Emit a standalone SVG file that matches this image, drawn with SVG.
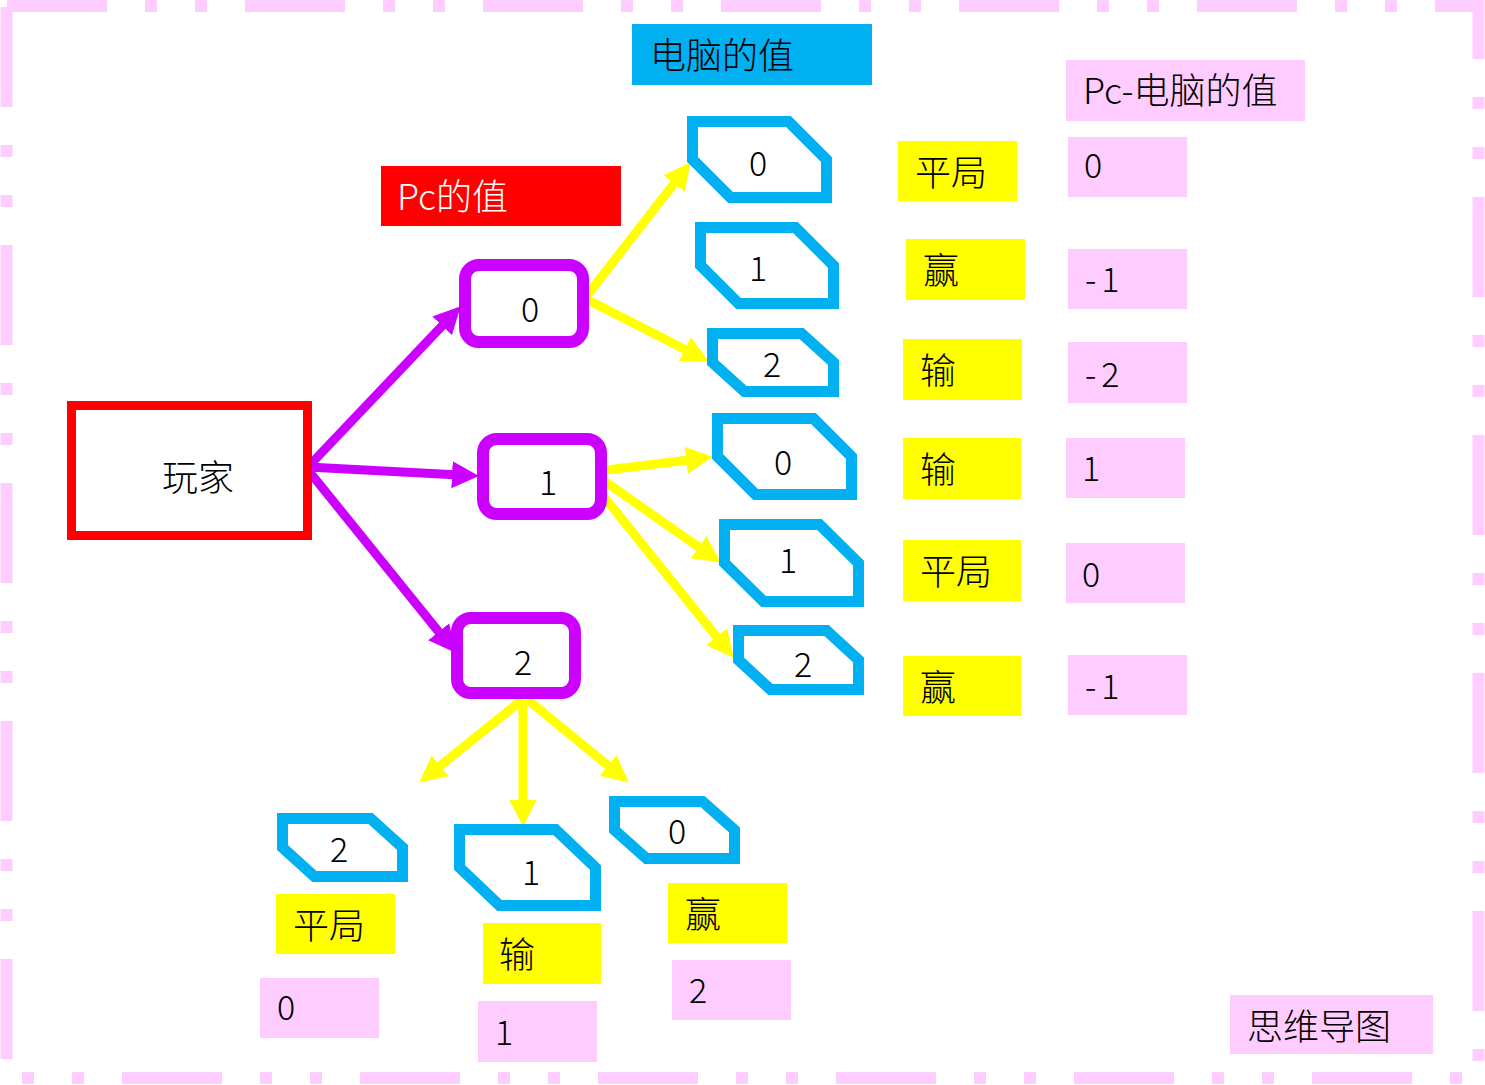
<svg xmlns="http://www.w3.org/2000/svg" width="1485" height="1085" viewBox="0 0 1485 1085">
<style>
text{font-family:"Noto Sans CJK SC","Liberation Sans",sans-serif;fill:#000;font-weight:300;}
.t{font-size:36px;}
.d{font-size:34px;}
.n{letter-spacing:5px;}
.m{text-anchor:middle;}
.pink{fill:#FFCCFF;}
.yel{fill:#FFFF00;}
.hex{fill:#fff;stroke:#00B0F0;stroke-width:11;stroke-linejoin:miter;}
.pur{fill:#fff;stroke:#CC00FF;stroke-width:12;}
.bd{stroke:#FFCCFF;stroke-width:12;fill:none;stroke-dasharray:100 38 12 38 12 38;}
.pa{stroke:#CC00FF;stroke-width:9;fill:none;}
.ya{stroke:#FFFF00;stroke-width:9;fill:none;}
</style>
<defs>
<marker id="hp" markerUnits="userSpaceOnUse" markerWidth="27" markerHeight="27" refX="12" refY="13.5" orient="auto" viewBox="0 0 27 27"><path d="M0,0 L27,13.5 L0,27 Z" fill="#CC00FF"/></marker>
<marker id="hy" markerUnits="userSpaceOnUse" markerWidth="27" markerHeight="27" refX="12" refY="13.5" orient="auto" viewBox="0 0 27 27"><path d="M0,0 L27,13.5 L0,27 Z" fill="#FFFF00"/></marker>
</defs>
<rect width="1485" height="1085" fill="#fff"/>
<g id="border">
<line class="bd" x1="7" y1="6" x2="1484" y2="6"/>
<line class="bd" x1="6.5" y1="7" x2="6.5" y2="1084"/>
<line class="bd" x1="1478.5" y1="0" x2="1478.5" y2="1084" stroke-dashoffset="41"/>
<line class="bd" x1="0" y1="1078" x2="1484" y2="1078" stroke-dashoffset="116"/>
</g>
<g id="connectors">
<line class="pa" x1="308" y1="467" x2="450.4" y2="317.1" marker-end="url(#hp)"/>
<line class="pa" x1="308" y1="467" x2="464" y2="475.3" marker-end="url(#hp)"/>
<line class="pa" x1="308" y1="470" x2="446.2" y2="641.1" marker-end="url(#hp)"/>
<line class="ya" x1="585" y1="298" x2="681.4" y2="174" marker-end="url(#hy)"/>
<line class="ya" x1="588" y1="300" x2="695.5" y2="354.7" marker-end="url(#hy)"/>
<line class="ya" x1="607" y1="470" x2="698.1" y2="458.7" marker-end="url(#hy)"/>
<line class="ya" x1="600" y1="478" x2="708.5" y2="554" marker-end="url(#hy)"/>
<line class="ya" x1="597" y1="488" x2="724.2" y2="646.1" marker-end="url(#hy)"/>
<line class="ya" x1="522" y1="700" x2="430.9" y2="773.2" marker-end="url(#hy)"/>
<line class="ya" x1="523" y1="700" x2="523" y2="812" marker-end="url(#hy)"/>
<line class="ya" x1="528" y1="700" x2="617.2" y2="773.1" marker-end="url(#hy)"/>
</g>
<g id="player">
<rect x="71.5" y="405.5" width="236" height="130" fill="#fff" stroke="#FF0000" stroke-width="9"/>
<text class="t m" x="198" y="491">玩家</text>
</g>
<g id="title-pc">
<rect x="381" y="166" width="240" height="60" fill="#FF0000"/>
<text class="t" x="397" y="210" style="fill:#fff">Pc的值</text>
</g>
<g id="title-computer">
<rect x="632" y="24" width="240" height="61" fill="#00B0F0"/>
<text class="t" x="650" y="69">电脑的值</text>
</g>
<g id="title-diff">
<rect class="pink" x="1066" y="60" width="239" height="61"/>
<text class="t" x="1083" y="104">Pc-电脑的值</text>
</g>
<g id="pc0"><rect class="pur" x="465" y="265" width="118" height="77" rx="14"/><text class="d m" x="530" y="322">0</text></g>
<g id="pc1"><rect class="pur" x="483" y="439" width="118" height="75" rx="14"/><text class="d m" x="548" y="495">1</text></g>
<g id="pc2"><rect class="pur" x="457" y="618" width="118" height="75" rx="14"/><text class="d m" x="523" y="675">2</text></g>
<g id="c00"><path class="hex" d="M692.5,121.5 H788.5 L826.5,159.5 V197.5 H730.5 L692.5,159.5 Z"/><text class="d m" x="758" y="176">0</text></g>
<g id="c01"><path class="hex" d="M700.5,227.5 H795.5 L833.5,265.5 V303.5 H738.5 L700.5,265.5 Z"/><text class="d m" x="758" y="281">1</text></g>
<g id="c02"><path class="hex" d="M712.5,333.5 H801.5 L833.5,362.5 V391.5 H744.5 L712.5,362.5 Z"/><text class="d m" x="772" y="377">2</text></g>
<g id="c10"><path class="hex" d="M717.5,418.5 H813.5 L851.5,456.5 V494.5 H755.5 L717.5,456.5 Z"/><text class="d m" x="783" y="475">0</text></g>
<g id="c11"><path class="hex" d="M724.5,524.5 H819.5 L858.5,563 V601.5 H763.5 L724.5,563 Z"/><text class="d m" x="788" y="573">1</text></g>
<g id="c12"><path class="hex" d="M738.5,630.5 H826.5 L858.5,660 V689.5 H770.5 L738.5,660 Z"/><text class="d m" x="803" y="677">2</text></g>
<g id="c22"><path class="hex" d="M282.5,818.5 H370.5 L402.5,847.5 V876.5 H314.5 L282.5,847.5 Z"/><text class="d m" x="339" y="862">2</text></g>
<g id="c21"><path class="hex" d="M459.5,829.5 H555.5 L595.5,867.5 V905.5 H499.5 L459.5,867.5 Z"/><text class="d m" x="531" y="885">1</text></g>
<g id="c20"><path class="hex" d="M614.5,801.5 H702.5 L734.5,830 V858.5 H646.5 L614.5,830 Z"/><text class="d m" x="677" y="844">0</text></g>
<g id="r1"><rect class="yel" x="898" y="141" width="119" height="60"/><text class="t" x="915" y="186">平局</text></g>
<g id="r2"><rect class="yel" x="906" y="239" width="119" height="61"/><text class="t" x="923" y="284">赢</text></g>
<g id="r3"><rect class="yel" x="903" y="339" width="119" height="61"/><text class="t" x="920" y="384">输</text></g>
<g id="r4"><rect class="yel" x="903" y="438" width="118" height="61"/><text class="t" x="920" y="483">输</text></g>
<g id="r5"><rect class="yel" x="903" y="540" width="118" height="61"/><text class="t" x="920" y="585">平局</text></g>
<g id="r6"><rect class="yel" x="903" y="656" width="118" height="60"/><text class="t" x="920" y="701">赢</text></g>
<g id="v1"><rect class="pink" x="1068" y="137" width="119" height="60"/><text class="d" x="1084" y="178">0</text></g>
<g id="v2"><rect class="pink" x="1068" y="249" width="119" height="60"/><text class="d n" x="1085" y="292">-1</text></g>
<g id="v3"><rect class="pink" x="1068" y="342" width="119" height="61"/><text class="d n" x="1085" y="387">-2</text></g>
<g id="v4"><rect class="pink" x="1066" y="438" width="119" height="60"/><text class="d" x="1082" y="481">1</text></g>
<g id="v5"><rect class="pink" x="1066" y="543" width="119" height="60"/><text class="d" x="1082" y="587">0</text></g>
<g id="v6"><rect class="pink" x="1068" y="655" width="119" height="60"/><text class="d n" x="1085" y="699">-1</text></g>
<g id="r7"><rect class="yel" x="276" y="894" width="119" height="60"/><text class="t" x="293" y="939">平局</text></g>
<g id="r8"><rect class="yel" x="483" y="923" width="118" height="61"/><text class="t" x="499" y="968">输</text></g>
<g id="r9"><rect class="yel" x="668" y="883" width="119" height="60"/><text class="t" x="685" y="928">赢</text></g>
<g id="v7"><rect class="pink" x="260" y="978" width="119" height="60"/><text class="d" x="277" y="1020">0</text></g>
<g id="v8"><rect class="pink" x="478" y="1001" width="119" height="61"/><text class="d" x="495" y="1045">1</text></g>
<g id="v9"><rect class="pink" x="672" y="960" width="119" height="60"/><text class="d" x="689" y="1003">2</text></g>
<g id="mindmap"><rect class="pink" x="1230" y="995" width="203" height="59"/><text class="t" x="1247" y="1040">思维导图</text></g>
</svg>
